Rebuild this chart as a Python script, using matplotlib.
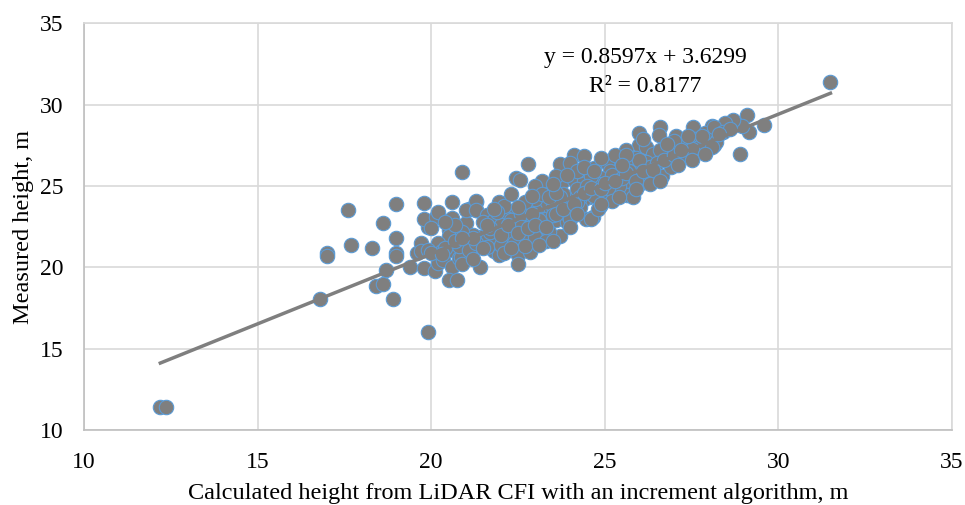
import numpy as np
import matplotlib
matplotlib.use("Agg")
import matplotlib.pyplot as plt

plt.rcParams['font.family'] = ['Liberation Serif', 'DejaVu Serif']

# calculated height (LiDAR CFI, increment algorithm) and measured height, m
calc_h = [
    12.2, 12.35, 16.8, 17.0, 17.0, 17.6, 17.7, 18.3, 18.4, 18.6, 18.6, 18.7, 18.9, 19.0, 19.0, 19.0, 19.0, 19.9,
    19.4, 19.6, 19.7, 19.8, 20.1, 20.2, 19.9, 19.8, 20.15, 20.2, 20.0, 20.5, 20.5, 20.6, 21.0, 21.1, 21.3, 19.8,
    20.6, 20.2, 20.3, 20.55, 20.35, 20.6, 20.5, 20.75, 20.8, 21.0, 21.25, 21.4, 20.9, 21.3, 21.0, 21.55, 21.75,
    21.9, 21.4, 21.6, 21.8, 21.8, 20.85, 19.7, 19.9, 20.0, 20.4, 20.8, 21.1, 20.7, 21.2, 20.9,
    22.8, 23.7, 24.1, 24.4, 24.0, 22.45, 22.55, 23.2, 23.0, 23.8, 24.1, 24.4, 24.6, 24.3, 21.95, 21.3, 21.3,
    21.6, 21.5, 21.8, 22.5, 22.5, 22.85, 23.7, 23.15, 22.85, 22.25, 21.95, 21.6, 21.3, 22.4, 22.65, 23.05,
    23.15, 23.45, 23.6, 23.35, 23.7, 24.0, 24.1, 24.45, 24.65, 24.55, 24.75, 22.1, 22.4, 21.7, 22.65, 23.0,
    23.4, 23.6, 23.0, 22.7, 22.2, 22.0, 22.3, 22.9, 23.3, 23.5, 23.8, 24.2, 24.4, 24.8, 23.9, 22.6, 22.1,
    23.2, 23.9, 24.3,
    26.0, 26.6, 27.55, 28.1, 27.9, 28.15, 27.35, 27.05, 26.55, 26.0, 25.6, 26.2, 26.9, 27.2, 27.6, 27.7,
    26.4, 26.8, 27.05, 26.2, 25.9, 25.7, 25.4, 25.05, 24.7, 25.15, 25.5, 25.9, 26.3, 26.65, 26.2, 25.8, 25.6,
    25.3, 24.9, 24.8, 25.15, 25.65, 25.8, 24.85, 24.6, 26.05, 26.4, 25.0, 25.4, 26.0, 26.6, 27.3, 27.5, 25.2,
    24.6, 25.7, 26.9, 26.5, 27.0, 24.5, 24.2, 25.3,
    31.5, 29.1, 28.9, 29.6, 29.15, 28.95, 28.7, 28.45, 28.15, 28.4, 28.2, 28.1, 27.8, 28.6,
    22.2, 22.6, 23.1, 23.5, 23.9, 24.3, 24.7, 25.1, 25.5, 22.0, 22.4, 23.3, 22.7, 23.1, 24.0, 24.8, 25.2,
    22.9, 23.7, 24.2, 22.3, 21.9,
    21.2, 21.5, 21.7, 22.0, 22.2, 22.5, 22.8, 23.0, 23.3, 23.6, 23.8, 24.1, 24.4, 24.6, 24.9, 25.0, 25.3,
    25.6, 25.9, 26.1, 26.4, 26.7, 27.0, 27.2, 23.4, 23.6, 22.9, 22.5, 21.8, 21.6, 20.9, 20.7, 20.4, 20.3,
    20.9, 21.2, 22.1, 22.3, 23.5, 24.0, 24.2, 24.9, 25.4, 25.9, 26.3, 26.6, 27.1, 27.5, 27.9, 26.1, 25.6,
    24.9, 24.4, 23.9, 23.5, 24.7, 25.5, 26.8, 27.4, 28.3,
]
meas_h = [
    11.4, 11.4, 18.05, 20.9, 20.7, 23.5, 21.4, 21.2, 18.85, 18.95, 22.75, 19.85, 18.05, 23.9, 21.8, 20.9, 20.7, 16.0,
    20.05, 20.9, 21.5, 19.95, 19.75, 20.25, 22.5, 22.95, 23.1, 23.4, 22.4, 22.3, 21.95, 23.05, 22.75, 23.6, 24.05, 23.95,
    24.05, 21.5, 21.0, 21.05, 20.45, 20.05, 19.25, 19.25, 20.6, 20.8, 21.5, 20.05, 25.85, 23.5, 23.5, 22.9, 22.8,
    22.7, 21.9, 21.7, 21.5, 21.0, 20.65, 21.0, 21.1, 20.9, 21.2, 21.3, 21.1, 21.6, 22.0, 22.2,
    26.35, 26.35, 26.9, 26.85, 26.4, 25.5, 25.4, 25.3, 25.0, 25.3, 25.4, 25.3, 26.0, 26.0, 24.05, 24.1, 23.5,
    23.2, 22.8, 22.9, 20.75, 20.2, 20.95, 21.95, 22.4, 21.75, 21.6, 20.75, 21.25, 21.5, 23.45, 22.9, 23.55,
    23.0, 23.45, 22.9, 24.05, 23.75, 24.15, 23.45, 23.0, 23.1, 24.35, 24.75, 22.3, 22.3, 22.2, 21.9, 21.9,
    22.2, 25.6, 24.2, 24.0, 23.0, 22.6, 22.9, 22.7, 23.0, 23.8, 24.5, 24.8, 24.2, 25.1, 22.8, 23.3, 23.8,
    24.5, 23.3, 23.7,
    28.25, 28.65, 28.65, 28.7, 28.25, 27.55, 26.9, 28.05, 28.15, 27.5, 27.25, 27.4, 27.4, 27.6, 27.9, 27.4,
    27.0, 26.8, 26.5, 26.5, 26.7, 26.5, 26.5, 26.4, 26.1, 25.9, 26.0, 26.0, 26.2, 25.6, 25.6, 25.6, 25.25,
    25.4, 25.5, 25.1, 24.85, 24.45, 24.35, 23.75, 23.0, 25.2, 25.8, 24.4, 25.0, 26.6, 27.2, 27.0, 27.3, 25.7,
    25.6, 25.9, 26.2, 26.4, 27.8, 25.0, 25.9, 26.9,
    31.4, 29.4, 27.0, 28.75, 28.35, 28.7, 29.05, 28.85, 28.65, 28.3, 27.7, 27.4, 28.1, 28.5,
    22.0, 22.5, 22.9, 23.2, 23.8, 24.3, 24.4, 24.9, 25.5, 21.4, 21.5, 21.6, 21.3, 21.4, 23.0, 23.6, 24.1,
    23.3, 24.3, 24.0, 24.5, 23.4,
    21.8, 21.2, 22.4, 22.0, 22.6, 22.1, 22.4, 22.6, 22.5, 23.3, 23.6, 23.9, 24.6, 24.9, 24.8, 25.2, 25.3,
    25.8, 25.3, 25.9, 26.0, 26.6, 26.9, 27.2, 24.3, 24.6, 24.4, 23.7, 23.6, 22.6, 21.8, 22.6, 22.8, 20.8,
    20.2, 20.5, 20.9, 21.2, 21.6, 22.5, 23.3, 23.9, 24.3, 24.8, 25.1, 25.3, 26.3, 26.6, 27.0, 27.9, 26.9,
    26.7, 26.2, 25.7, 25.1, 25.9, 26.3, 27.6, 28.1, 28.2,
]

slope = 0.8597
intercept = 3.6299
r2 = 0.8177

x = np.array(calc_h)
y = np.array(meas_h)

fig = plt.figure(figsize=(9.65, 5.05), dpi=100)
ax = fig.add_axes([0.087, 0.1485, 0.8995, 0.805])

ax.scatter(x, y, s=108, facecolor='#7F7F7F', edgecolor='#5B9BD5', linewidth=0.8, zorder=3)

xl = np.array([x.min(), x.max()])
ax.plot(xl, slope * xl + intercept, color='#7F7F7F', lw=2.5, zorder=4)

ax.text(26.17, 32.88, f'y = {slope}x + {intercept}', ha='center', va='center', fontsize=17, zorder=5)
ax.text(26.17, 31.1, f'R² = {r2}', ha='center', va='center', fontsize=17, zorder=5)

ax.set_xlim(10, 35)
ax.set_ylim(10, 35)
ax.set_xticks(range(10, 36, 5))
ax.set_yticks(range(10, 36, 5))
ax.grid(True, color='#D9D9D9', lw=1.2)
ax.set_axisbelow(True)
ax.tick_params(axis='x', length=0, labelsize=17, colors='black', pad=16)
ax.tick_params(axis='y', length=0, labelsize=17, colors='black', pad=15)
for s in ax.spines.values():
    s.set_color('#D9D9D9')
    s.set_linewidth(1.2)
ax.spines['left'].set_color('#BFBFBF')
ax.spines['bottom'].set_color('#BFBFBF')

ax.set_xlabel('Calculated height from LiDAR CFI with an increment algorithm, m', fontsize=17.5, labelpad=7)
ax.set_ylabel('Measured height, m', fontsize=17.5, labelpad=4)

plt.savefig('out.png', dpi=100)
